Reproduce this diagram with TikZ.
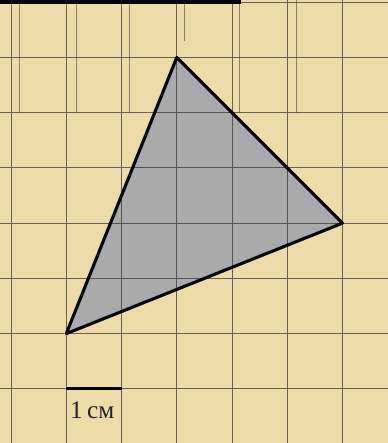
\documentclass[tikz,border=0pt]{standalone}
\usepackage{fontspec}
\setmainfont{Liberation Serif}
\definecolor{paper}{RGB}{238,219,170}
\definecolor{trigray}{RGB}{170,170,170}
\definecolor{rule}{RGB}{60,56,50}

\begin{document}
\begin{tikzpicture}[gridline/.style={rule,line width=0.45pt,opacity=0.75},
  ghostline/.style={rule,line width=0.4pt,opacity=0.55},
  edge/.style={black,line width=1.6pt,line join=round}]
\useasboundingbox (-0.2,-0.98) rectangle (6.82,7.04);
\fill[paper] (-0.2,-0.98) rectangle (6.82,7.04);

\coordinate (A) at (3,6);
\coordinate (B) at (6,3);
\coordinate (C) at (1,1);
\fill[trigray] (A)--(B)--(C)--cycle;

\draw[gridline] (-0.2,-0.98) grid (6.82,7.04);
\draw[ghostline] (0.16,5)--(0.16,7.04);
\draw[ghostline] (1.18,5)--(1.18,7.04);
\draw[ghostline] (2.15,5)--(2.15,7.04);
\draw[ghostline] (3.13,6.3)--(3.13,7.04);
\draw[ghostline] (4.14,5)--(4.14,7.04);
\draw[ghostline] (5.16,5)--(5.16,7.04);

\draw[edge] (A)--(B)--(C)--cycle;

\coordinate (top1) at (-0.2,7.01);
\coordinate (top2) at (4.17,7.01);
\draw[line width=2pt] (top1)--(top2);

\coordinate (s1) at (1,0);
\coordinate (s2) at (2,0);
\draw[line width=1.5pt] (s1)--(s2);
\node[font=\fontsize{13}{15}\selectfont,text=black!85] (unit) at (1.47,-0.38) {1\,см};

\end{tikzpicture}
\end{document}
